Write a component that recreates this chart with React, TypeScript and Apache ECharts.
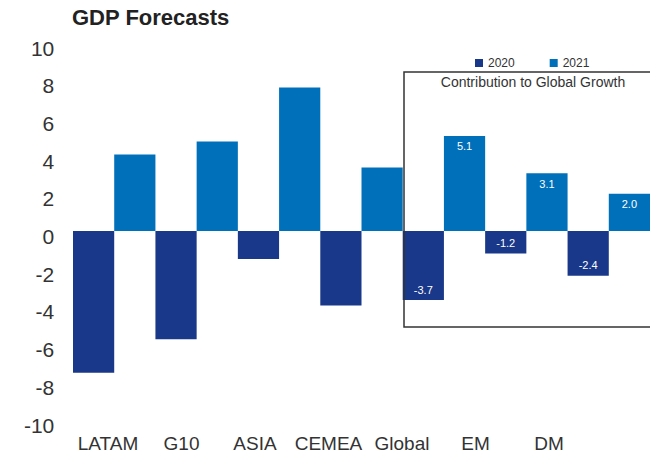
import React, { useEffect, useRef } from "react";
import * as echarts from "echarts";

const categories = ["LATAM", "G10", "ASIA", "CEMEA", "Global", "EM", "DM"];
const values2020 = [-7.6, -5.8, -1.5, -4.0, -3.7, -1.2, -2.4];
const values2021 = [4.1, 4.8, 7.7, 3.4, 5.1, 3.1, 2.0];
const labeledCategories = ["Global", "EM", "DM"];
const yTicks = { min: -10, max: 10, interval: 2 };

const DARK = "#1A3889";
const LIGHT = "#0070BB";
const FONT = "'Liberation Sans', Arial, sans-serif";

function buildData(values: number[], negPos: string, posPos: string) {
  return values.map((v, i) => {
    const show = labeledCategories.includes(categories[i]);
    return {
      value: v,
      label: {
        show,
        position: v < 0 ? negPos : posPos,
        distance: 5,
        color: "#ffffff",
        fontSize: 11,
        fontFamily: FONT,
        formatter: (p: any) => Number(p.value).toFixed(1),
      },
    };
  });
}

export default function App() {
  const ref = useRef<HTMLDivElement>(null);
  useEffect(() => {
    if (!ref.current) return;
    const chart = echarts.init(ref.current, undefined, { renderer: "svg" });
    chart.setOption({
      animation: false,
      backgroundColor: "#ffffff",
      title: {
        text: "GDP Forecasts",
        left: 72,
        top: 6,
        padding: 0,
        textStyle: { fontFamily: FONT, fontSize: 22, fontWeight: "bold", color: "#222" },
      },
      legend: {
        data: ["2020", "2021"],
        left: 475,
        top: 57,
        padding: 0,
        icon: "rect",
        itemWidth: 8,
        itemHeight: 8,
        itemGap: 35,
        textStyle: { fontFamily: FONT, fontSize: 12, color: "#333" },
      },
      grid: [
        { left: 73, top: 44.5, width: 581, height: 373, containLabel: false },
        { left: 71.25, top: 48, width: 514.5, height: 377, containLabel: false },
      ],
      xAxis: [
        {
          type: "category",
          gridIndex: 0,
          data: categories,
          axisLine: { show: false },
          axisTick: { show: false },
          axisLabel: { show: false },
        },
        {
          type: "category",
          gridIndex: 1,
          data: categories,
          axisLine: { show: false },
          axisTick: { show: false },
          axisLabel: { interval: 0, fontFamily: FONT, fontSize: 19, color: "#333", margin: 9 },
        },
      ],
      yAxis: [
        {
          type: "value",
          gridIndex: 0,
          min: yTicks.min,
          max: yTicks.max,
          interval: yTicks.interval,
          axisLine: { show: false },
          axisTick: { show: false },
          axisLabel: { show: false },
          splitLine: { show: false },
        },
        {
          type: "value",
          gridIndex: 1,
          min: yTicks.min,
          max: yTicks.max,
          interval: yTicks.interval,
          axisLine: { show: false },
          axisTick: { show: false },
          splitLine: { show: false },
          axisLabel: { fontFamily: FONT, fontSize: 21, color: "#333", margin: 17 },
        },
      ],
      series: [
        {
          name: "2020",
          type: "bar",
          xAxisIndex: 0,
          yAxisIndex: 0,
          barGap: "0%",
          barCategoryGap: "0%",
          itemStyle: { color: DARK },
          data: buildData(values2020, "insideBottom", "insideTop"),
        },
        {
          name: "2021",
          type: "bar",
          xAxisIndex: 0,
          yAxisIndex: 0,
          barGap: "0%",
          barCategoryGap: "0%",
          itemStyle: { color: LIGHT },
          data: buildData(values2021, "insideBottom", "insideTop"),
        },
      ],
      graphic: [
        {
          type: "rect",
          shape: { x: 404, y: 72, width: 260, height: 255 },
          style: { fill: "transparent", stroke: "#333", lineWidth: 1.5 },
          z: 10,
        },
        {
          type: "text",
          x: 533,
          y: 82,
          style: {
            text: "Contribution to Global Growth",
            fontFamily: FONT,
            fontSize: 14,
            fill: "#333",
            textAlign: "center",
            textVerticalAlign: "middle",
          },
          z: 10,
        },
      ],
    });
    return () => chart.dispose();
  }, []);
  return (
    <div
      ref={ref}
      style={{ position: "absolute", left: 0, top: 0, width: 650, height: 457 }}
    />
  );
}
